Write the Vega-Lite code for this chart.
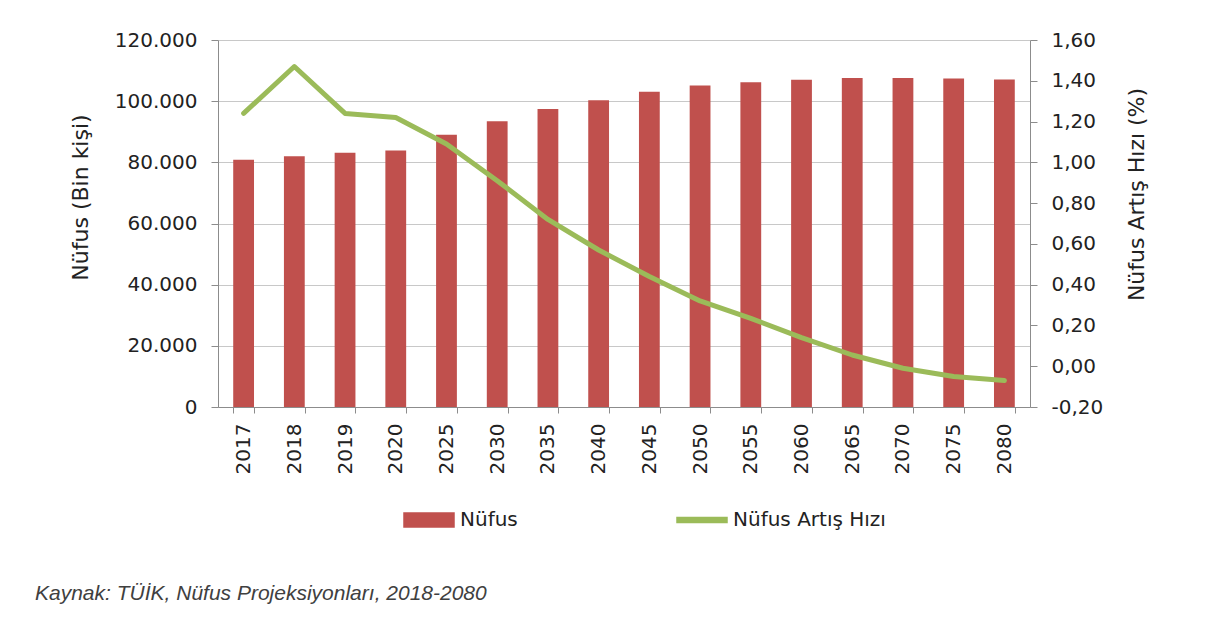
{
  "$schema": "https://vega.github.io/schema/vega-lite/v6.json",
  "width": 812,
  "height": 367,
  "autosize": {"type": "none"},
  "padding": {"left": 218, "top": 40, "right": 184, "bottom": 217},
  "background": "white",
  "config": {
    "locale": {"number": {"decimal": ",", "thousands": ".", "grouping": [3], "currency": ["", ""], "minus": "-"}},
    "view": {"stroke": null},
    "font": "DejaVu Sans",
    "axis": {
      "labelFont": "DejaVu Sans",
      "titleFont": "DejaVu Sans",
      "labelColor": "#222222",
      "titleColor": "#222222",
      "domainColor": "#8C8C8C",
      "tickColor": "#8C8C8C",
      "gridColor": "#C8C8C8",
      "titleFontWeight": "normal",
      "labelFontSize": 20,
      "titleFontSize": 22
    }
  },
  "title": {
    "text": "Kaynak: TÜİK, Nüfus Projeksiyonları, 2018-2080",
    "orient": "bottom",
    "anchor": "start",
    "frame": "group",
    "dx": -183,
    "offset": 53,
    "font": "Liberation Sans",
    "fontStyle": "italic",
    "fontWeight": "normal",
    "fontSize": 21,
    "color": "#404040"
  },
  "data": {
    "values": [
      {"year": "2017", "nufus": 80810, "hiz": 1.24},
      {"year": "2018", "nufus": 82004, "hiz": 1.47},
      {"year": "2019", "nufus": 83155, "hiz": 1.24},
      {"year": "2020", "nufus": 83900, "hiz": 1.22},
      {"year": "2025", "nufus": 89000, "hiz": 1.09},
      {"year": "2030", "nufus": 93400, "hiz": 0.91},
      {"year": "2035", "nufus": 97400, "hiz": 0.72},
      {"year": "2040", "nufus": 100300, "hiz": 0.57},
      {"year": "2045", "nufus": 103100, "hiz": 0.44},
      {"year": "2050", "nufus": 105100, "hiz": 0.32},
      {"year": "2055", "nufus": 106200, "hiz": 0.235},
      {"year": "2060", "nufus": 107000, "hiz": 0.14},
      {"year": "2065", "nufus": 107600, "hiz": 0.055},
      {"year": "2070", "nufus": 107600, "hiz": -0.01},
      {"year": "2075", "nufus": 107400, "hiz": -0.05},
      {"year": "2080", "nufus": 107100, "hiz": -0.07}
    ]
  },
  "layer": [
    {
      "mark": {"type": "bar"},
      "encoding": {
        "x": {
          "field": "year",
          "type": "ordinal",
          "sort": null,
          "scale": {"paddingInner": 0.59, "paddingOuter": 0.3},
          "axis": {
            "title": null,
            "labelAngle": -90,
            "tickBand": "extent",
            "tickSize": 6,
            "labelPadding": 10
          }
        },
        "y": {
          "field": "nufus",
          "type": "quantitative",
          "scale": {"domain": [0, 120000]},
          "axis": {
            "title": "Nüfus (Bin kişi)",
            "values": [0, 20000, 40000, 60000, 80000, 100000, 120000],
            "format": ",d",
            "grid": true,
            "tickSize": 7,
            "labelPadding": 14,
            "titlePadding": 22,
            "titleY": 157
          }
        },
        "color": {
          "datum": "Nüfus",
          "scale": {"domain": ["Nüfus", "Nüfus Artış Hızı"], "range": ["#C0504D", "#9BBB59"]},
          "legend": {
            "title": null,
            "orient": "none",
            "direction": "horizontal",
            "legendX": 185,
            "legendY": 454,
            "labelFont": "DejaVu Sans",
            "labelFontSize": 20,
            "labelColor": "#222222",
            "labelOffset": 5,
            "columnPadding": 156,
            "symbolSize": 2500,
            "encode": {
              "symbols": {
                "update": {
                  "shape": {"signal": "datum.value === 'Nüfus' ? 'M-1,-0.28H1V0.28H-1Z' : 'M-1,-0.1H1V0.1H-1Z'"},
                  "fill": {"signal": "datum.value === 'Nüfus' ? '#C0504D' : '#9BBB59'"},
                  "stroke": {"value": "transparent"},
                  "opacity": {"value": 1}
                }
              }
            }
          }
        }
      }
    },
    {
      "mark": {"type": "line", "strokeWidth": 5, "strokeCap": "round", "strokeJoin": "round"},
      "encoding": {
        "x": {"field": "year", "type": "ordinal", "sort": null},
        "y": {
          "field": "hiz",
          "type": "quantitative",
          "scale": {"domain": [-0.2, 1.6]},
          "axis": {
            "orient": "right",
            "title": "Nüfus Artış Hızı (%)",
            "titleAngle": -90,
            "values": [-0.2, 0, 0.2, 0.4, 0.6, 0.8, 1, 1.2, 1.4, 1.6],
            "format": ".2f",
            "grid": false,
            "tickSize": 7,
            "labelPadding": 14,
            "titlePadding": 46,
            "titleY": 154
          }
        },
        "color": {"datum": "Nüfus Artış Hızı"}
      }
    }
  ],
  "resolve": {"scale": {"y": "independent"}}
}
